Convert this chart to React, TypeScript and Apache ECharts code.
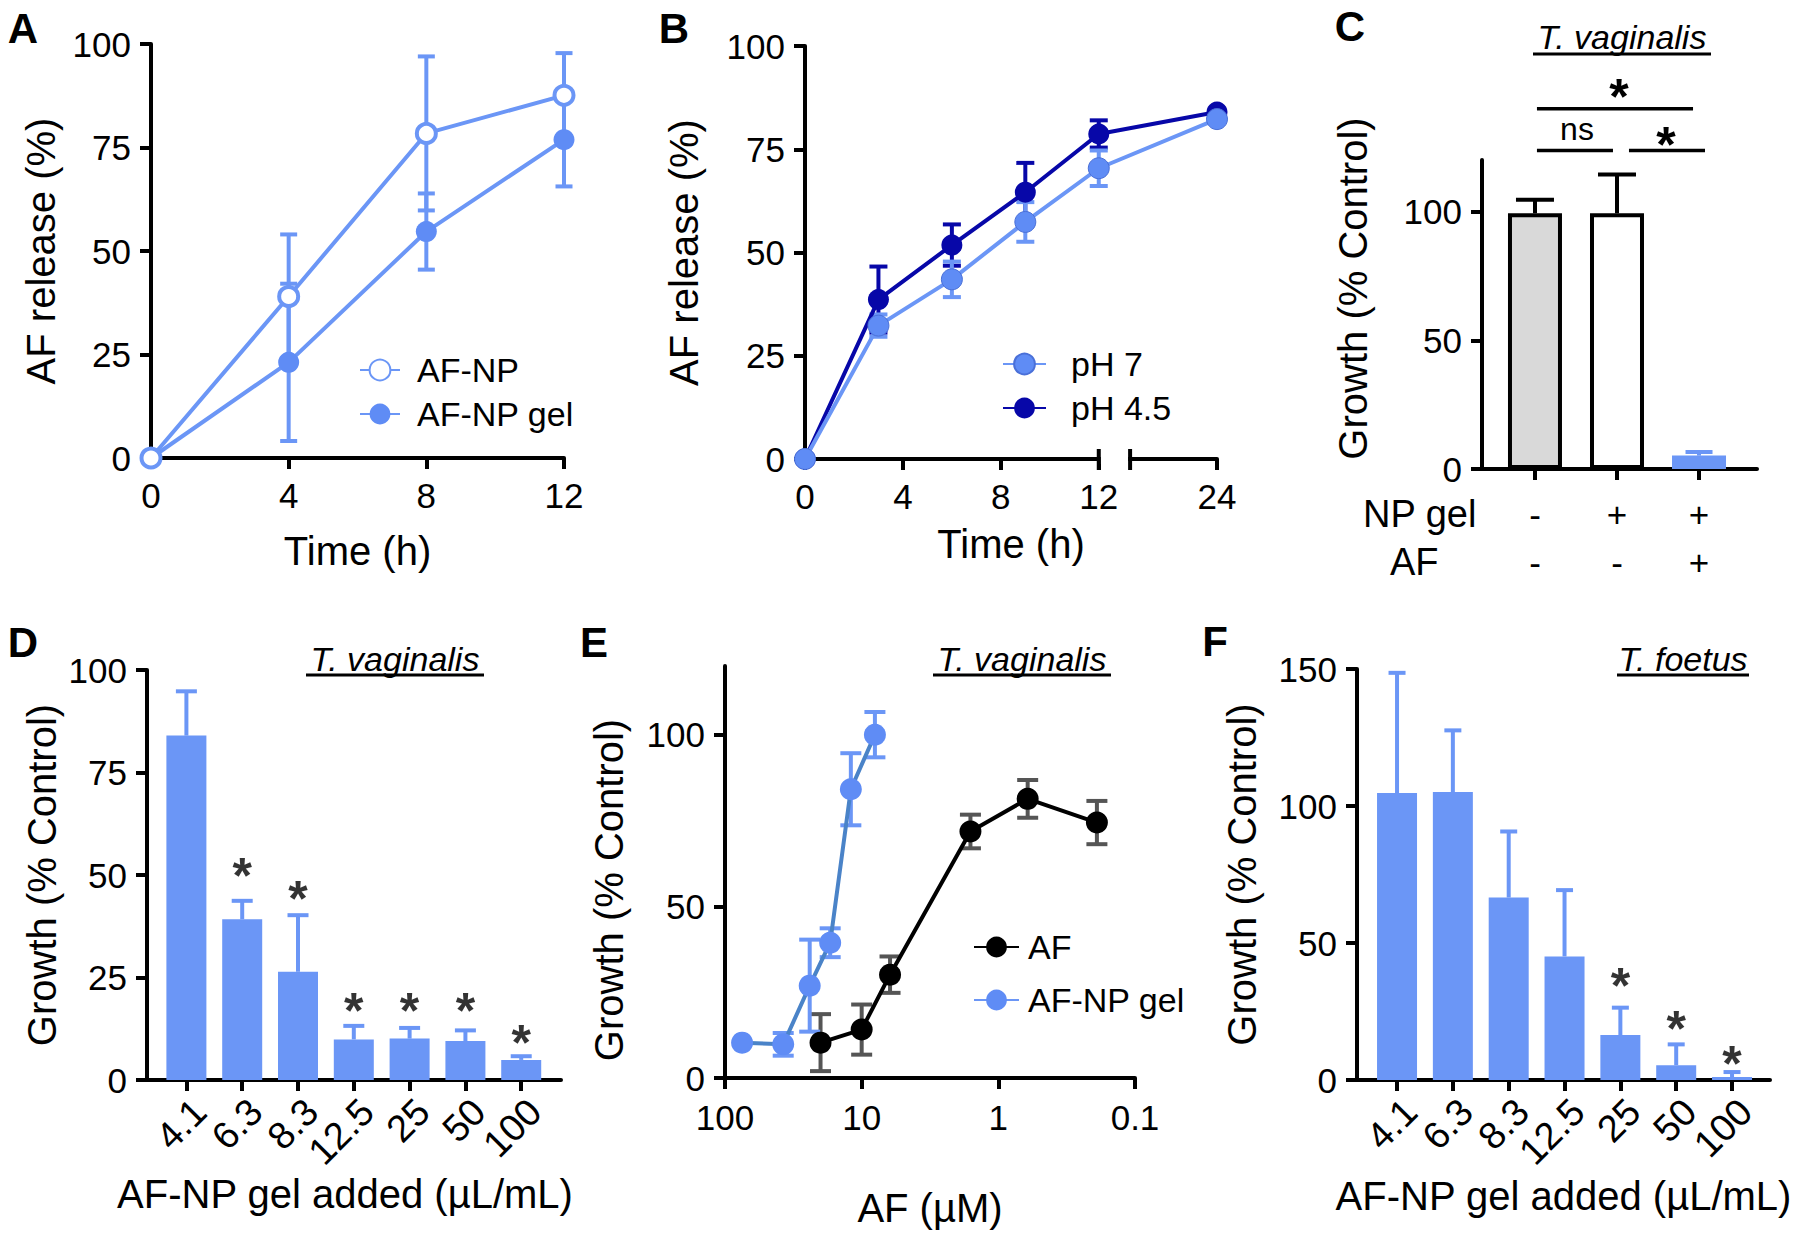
import React, { useEffect, useRef } from "react";
import * as echarts from "echarts";

const FONT = "'Liberation Sans', Arial, Helvetica, sans-serif";
const LIGHT = "#6b96f6";
const MARK = "#5f8cf5";
const NAVY = "#0707a8";
const STEEL = "#4a83c8";
const GRAY_ERR = "#555555";
const BLACK = "#000000";

// ---------- Panel A ----------
const timeA = [0, 4, 8, 12];
const afNp = [0, 39, 78.4, 87.6];
const afNpErr = [0, 15, 18.6, 10.2];
const afNpGel = [0, 23.1, 54.7, 76.9];
const afNpGelErr = [0, 19, 9.2, 11.3];

// ---------- Panel B ----------
const timeB = [0, 3, 6, 9, 12, 24];
const ph7 = [0, 32.3, 43.5, 57.4, 70.4, 82.3];
const ph7Err = [0, 2.7, 4.3, 4.8, 4.3, 0];
const ph45 = [0, 38.6, 51.8, 64.6, 78.7, 84.0];
const ph45Err = [0, 8, 5, 7.1, 3.3, 0];
const ticksB = [0, 4, 8, 12, 24];
const BREAK_AT = 12;
const RESUME_AT = 20.45;
const BREAK_GAP = 1.28;
const bx = (t: number) => (t <= BREAK_AT ? t : t - RESUME_AT + BREAK_AT + BREAK_GAP);
const unbx = (p: number) => (p <= BREAK_AT ? p : p + RESUME_AT - BREAK_AT - BREAK_GAP);

// ---------- Panel C ----------
const groupsC = [0, 1, 2];
const npGelRow = ["-", "+", "+"];
const afRow = ["-", "-", "+"];
const growthC = [99.3, 99.3, 5.2];
const growthCErr = [5.3, 15.1, 1.4];
const sigLinesC = [
  { from: 0.024, to: 1.927, y: 139.9 },
  { from: 0.024, to: 0.951, y: 123.7 },
  { from: 1.146, to: 2.073, y: 123.7 },
];
const sigTextsC = [
  { x: 1.024, y: 148.6, text: "*" },
  { x: 0.512, y: 131.9, text: "ns" },
  { x: 1.597, y: 130.0, text: "*" },
];

// ---------- Panel D ----------
const doses = ["4.1", "6.3", "8.3", "12.5", "25", "50", "100"];
const growthD = [84.0, 39.2, 26.4, 9.9, 10.1, 9.5, 4.9];
const growthDErr = [10.8, 4.5, 13.8, 3.3, 2.6, 2.6, 0.9];
const starsD = [null, 52.4, 46.9, 19.4, 19.4, 19.4, 11.8];

// ---------- Panel E ----------
const concAF = [20, 10, 6.2, 1.6, 0.61, 0.19];
const growthAF = [10.3, 14.1, 30.1, 71.8, 81.3, 74.4];
const growthAFErr = [8.3, 7.3, 5.3, 4.9, 5.5, 6.3];
const concGel = [75, 37.5, 24, 17, 12, 8];
const growthGel = [10.3, 9.8, 26.9, 39.4, 84.1, 100];
const growthGelErr = [0, 3.3, 13.4, 4.2, 10.5, 6.6];

// ---------- Panel F ----------
const growthF = [104.7, 105.1, 66.6, 45.1, 16.4, 5.4, 1.1];
const growthFErr = [43.9, 22.5, 24.1, 24.2, 10.0, 7.6, 1.8];
const starsF = [null, null, null, null, 38.3, 22.6, 9.7];

// ---------- layout ----------
const GRIDS = [
  { left: 151, top: 44, width: 413, height: 414 },
  { left: 805, top: 46, width: 412, height: 413 },
  { left: 1482, top: 160, width: 275, height: 309 },
  { left: 147, top: 670, width: 414, height: 410 },
  { left: 725, top: 666, width: 410, height: 412 },
  { left: 1357, top: 669, width: 413, height: 411 },
];
const TICK_FONT = 35;
const TITLE_FONT = 40;
const STAR_FONT = 50;

const txt = (size: number, extra: any = {}) => ({ color: BLACK, fontFamily: FONT, fontSize: size, ...extra });

function baseAxis(gridIndex: number, extra: any = {}) {
  const a: any = {
    gridIndex,
    axisLine: { show: true, onZero: false, lineStyle: { color: BLACK, width: 4 } },
    axisTick: { show: true, length: 11, lineStyle: { color: BLACK, width: 4 } },
    axisLabel: { ...txt(TICK_FONT), margin: 20 },
    splitLine: { show: false },
    nameLocation: "middle",
    nameTextStyle: txt(TITLE_FONT),
  };
  for (const k of Object.keys(extra)) {
    if (typeof extra[k] === "object" && !Array.isArray(extra[k]) && a[k]) a[k] = { ...a[k], ...extra[k] };
    else a[k] = extra[k];
  }
  return a;
}

function errSeries(id: string, gi: number, data: number[][], color: string, cap: number, both: boolean) {
  return {
    type: "custom",
    id,
    name: id,
    xAxisIndex: gi,
    yAxisIndex: gi,
    z: 2,
    clip: false,
    silent: true,
    data,
    encode: { x: 0, y: [1, 2] },
    renderItem: (params: any, api: any) => {
      const x = api.value(0);
      const lo = api.value(1);
      const hi = api.value(2);
      const a = api.coord([x, lo]);
      const b = api.coord([x, hi]);
      const h = cap / 2;
      const style = { stroke: color, lineWidth: 4, fill: "none" };
      const ch: any[] = [
        { type: "line", shape: { x1: a[0], y1: a[1], x2: b[0], y2: b[1] }, style },
        { type: "line", shape: { x1: b[0] - h, y1: b[1], x2: b[0] + h, y2: b[1] }, style },
      ];
      if (both) ch.push({ type: "line", shape: { x1: a[0] - h, y1: a[1], x2: a[0] + h, y2: a[1] }, style });
      return { type: "group", children: ch };
    },
  };
}

const both = (xs: number[], ys: number[], es: number[]) =>
  xs.map((x, i) => [x, ys[i] - es[i], ys[i] + es[i]]).filter((d, i) => es[i] > 0);
const up = (xs: number[], ys: number[], es: number[]) =>
  xs.map((x, i) => [x, ys[i], ys[i] + es[i]]).filter((d, i) => es[i] > 0);

const idx7 = doses.map((d, i) => i);
const barStylesC = [
  { color: "#d9d9d9", borderColor: BLACK, borderWidth: 4 },
  { color: "#ffffff", borderColor: BLACK, borderWidth: 4 },
  { color: LIGHT, borderWidth: 0 },
];

function starSeries(gi: number, stars: (number | null)[]) {
  return {
    type: "scatter",
    xAxisIndex: gi,
    yAxisIndex: gi,
    silent: true,
    z: 6,
    symbolSize: 1,
    itemStyle: { color: "transparent" },
    data: stars.map((s, i) => (s == null ? null : [i, s])).filter((d) => d),
    label: {
      show: true,
      position: "inside",
      formatter: "*",
      ...txt(STAR_FONT, { fontWeight: "bold" }),
      offset: [0, Math.round(STAR_FONT * 0.21)],
    },
  };
}

function legendCfg(names: string[], left: number, top: number, itemWidth: number, gap: number, textPad: number) {
  return {
    data: names,
    left,
    top,
    orient: "vertical",
    itemWidth,
    itemHeight: 26,
    itemGap: gap,
    selectedMode: false,
    textStyle: { ...txt(34), lineHeight: 34, padding: [0, 0, 0, textPad] },
  };
}

const rotatedLabels = {
  customValues: idx7,
  rotate: 45,
  margin: 12,
  fontSize: 38,
  align: "right",
  verticalAlign: "top",
  formatter: (v: number) => doses[v],
};

const option: any = {
  animation: false,
  backgroundColor: "#ffffff",
  grid: GRIDS.map((g) => ({ ...g, containLabel: false, outerBoundsMode: "none" })),
  legend: [
    legendCfg(["AF-NP", "AF-NP gel"], 354, 348, 40, 10, 12),
    legendCfg(["pH 7", "pH 4.5"], 997, 342, 43, 10, 20),
    legendCfg(["AF", "AF-NP gel"], 968, 925, 45, 19, 4),
  ],
  xAxis: [
    baseAxis(0, { type: "value", min: 0, max: 12, interval: 4, name: "Time (h)", nameGap: 73 }),
    baseAxis(1, {
      type: "value",
      min: 0,
      max: bx(24),
      name: "Time (h)",
      nameGap: 65,
      axisTick: { customValues: ticksB.map(bx) },
      axisLabel: { customValues: ticksB.map(bx), formatter: (v: number) => String(Math.round(unbx(v))) },
    }),
    baseAxis(2, {
      type: "value",
      min: -0.646,
      max: 2.707,
      axisTick: { customValues: groupsC },
      axisLabel: {
        customValues: groupsC,
        lineHeight: 48,
        margin: 21,
        formatter: (v: number) => `${npGelRow[v]}\n${afRow[v]}`,
      },
    }),
    baseAxis(3, {
      type: "value",
      min: -0.706,
      max: 6.713,
      name: "AF-NP gel added (µL/mL)",
      nameGap: 94,
      nameTextStyle: { padding: [0, 18, 0, 0] },
      axisTick: { customValues: idx7 },
      axisLabel: rotatedLabels,
    }),
    baseAxis(4, {
      type: "log",
      logBase: 10,
      min: 0.1,
      max: 100,
      inverse: true,
      name: "AF (µM)",
      nameGap: 110,
      axisLabel: { margin: 22, formatter: (v: number) => String(Number(v.toPrecision(3))) },
      minorTick: { show: false },
    }),
    baseAxis(5, {
      type: "value",
      min: -0.717,
      max: 6.68,
      name: "AF-NP gel added (µL/mL)",
      nameGap: 96,
      axisTick: { customValues: idx7 },
      axisLabel: rotatedLabels,
    }),
  ],
  yAxis: [
    baseAxis(0, { type: "value", min: 0, max: 100, interval: 25, name: "AF release (%)", nameRotate: 90, nameGap: 90 }),
    baseAxis(1, { type: "value", min: 0, max: 100, interval: 25, name: "AF release (%)", nameRotate: 90, nameGap: 101 }),
    baseAxis(2, {
      type: "value",
      min: 0,
      max: 120,
      name: "Growth (% Control)",
      nameRotate: 90,
      nameGap: 109,
      nameTextStyle: { padding: [0, 0, 0, 52] },
      axisTick: { customValues: [0, 50, 100] },
      axisLabel: { customValues: [0, 50, 100] },
    }),
    baseAxis(3, { type: "value", min: 0, max: 100, interval: 25, name: "Growth (% Control)", nameRotate: 90, nameGap: 85 }),
    baseAxis(4, {
      type: "value",
      min: 0,
      max: 120,
      name: "Growth (% Control)",
      nameRotate: 90,
      nameGap: 96,
      nameTextStyle: { padding: [0, 36, 0, 0] },
      axisTick: { customValues: [0, 50, 100] },
      axisLabel: { customValues: [0, 50, 100] },
    }),
    baseAxis(5, { type: "value", min: 0, max: 150, interval: 50, name: "Growth (% Control)", nameRotate: 90, nameGap: 95 }),
  ],
  series: [
    // A
    errSeries("errA-gel", 0, both(timeA, afNpGel, afNpGelErr), LIGHT, 17, true),
    errSeries("errA-np", 0, both(timeA, afNp, afNpErr), LIGHT, 17, true),
    {
      type: "line",
      name: "AF-NP gel",
      xAxisIndex: 0,
      yAxisIndex: 0,
      data: timeA.map((t, i) => [t, afNpGel[i]]),
      symbol: "circle",
      symbolSize: 21,
      clip: false,
      z: 3,
      lineStyle: { color: LIGHT, width: 4 },
      itemStyle: { color: MARK },
    },
    {
      type: "line",
      name: "AF-NP",
      xAxisIndex: 0,
      yAxisIndex: 0,
      data: timeA.map((t, i) => [t, afNp[i]]),
      symbol: "circle",
      symbolSize: 19,
      clip: false,
      z: 4,
      lineStyle: { color: LIGHT, width: 4 },
      itemStyle: { color: "#ffffff", borderColor: LIGHT, borderWidth: 4 },
    },
    // B
    errSeries("errB-45", 1, both(timeB.map(bx), ph45, ph45Err), NAVY, 18, true),
    errSeries("errB-7", 1, both(timeB.map(bx), ph7, ph7Err), LIGHT, 18, true),
    {
      type: "line",
      name: "pH 4.5",
      xAxisIndex: 1,
      yAxisIndex: 1,
      data: timeB.map((t, i) => [bx(t), ph45[i]]),
      symbol: "circle",
      symbolSize: 21,
      clip: false,
      z: 3,
      lineStyle: { color: NAVY, width: 4 },
      itemStyle: { color: NAVY },
    },
    {
      type: "line",
      name: "pH 7",
      xAxisIndex: 1,
      yAxisIndex: 1,
      data: timeB.map((t, i) => [bx(t), ph7[i]]),
      symbol: "circle",
      symbolSize: 21,
      clip: false,
      z: 4,
      lineStyle: { color: LIGHT, width: 4 },
      itemStyle: { color: MARK, borderColor: "#4a70d8", borderWidth: 1 },
    },
    // C
    {
      type: "bar",
      name: "Growth C",
      xAxisIndex: 2,
      yAxisIndex: 2,
      barWidth: 54,
      z: 3,
      data: groupsC.map((g, i) => ({ value: [g, growthC[i]], itemStyle: barStylesC[i] })),
    },
    errSeries("errC-k", 2, up(groupsC.slice(0, 2), growthC.slice(0, 2), growthCErr.slice(0, 2)), BLACK, 38, false),
    errSeries("errC-b", 2, up(groupsC.slice(2), growthC.slice(2), growthCErr.slice(2)), LIGHT, 27, false),
    // D
    {
      type: "bar",
      name: "Growth D",
      xAxisIndex: 3,
      yAxisIndex: 3,
      barWidth: 40,
      z: 3,
      itemStyle: { color: LIGHT },
      data: idx7.map((i) => [i, growthD[i]]),
    },
    errSeries("errD", 3, up(idx7, growthD, growthDErr), LIGHT, 21, false),
    starSeries(3, starsD),
    // E
    errSeries("errE-af", 4, both(concAF, growthAF, growthAFErr), GRAY_ERR, 21, true),
    errSeries("errE-gel", 4, both(concGel, growthGel, growthGelErr), LIGHT, 21, true),
    {
      type: "line",
      name: "AF",
      xAxisIndex: 4,
      yAxisIndex: 4,
      data: concAF.map((c, i) => [c, growthAF[i]]),
      symbol: "circle",
      symbolSize: 22,
      clip: false,
      z: 3,
      lineStyle: { color: BLACK, width: 4 },
      itemStyle: { color: BLACK },
    },
    {
      type: "line",
      name: "AF-NP gel",
      xAxisIndex: 4,
      yAxisIndex: 4,
      data: concGel.map((c, i) => [c, growthGel[i]]),
      symbol: "circle",
      symbolSize: 22,
      clip: false,
      z: 4,
      lineStyle: { color: STEEL, width: 4 },
      itemStyle: { color: MARK },
    },
    // F
    {
      type: "bar",
      name: "Growth F",
      xAxisIndex: 5,
      yAxisIndex: 5,
      barWidth: 40,
      z: 3,
      itemStyle: { color: LIGHT },
      data: idx7.map((i) => [i, growthF[i]]),
    },
    errSeries("errF", 5, up(idx7, growthF, growthFErr), LIGHT, 17, false),
    starSeries(5, starsF),
  ],
};

const textEl = (text: string, x: number, y: number, size: number, extra: any = {}) => ({
  type: "text",
  x,
  y,
  z: 100,
  silent: true,
  style: {
    text,
    fill: BLACK,
    fontFamily: FONT,
    fontSize: size,
    align: "center",
    verticalAlign: "middle",
    textAlign: "center",
    textVerticalAlign: "middle",
    ...extra,
  },
});
const lineEl = (x1: number, y1: number, x2: number, y2: number, w = 3.5) => ({
  type: "line",
  z: 100,
  silent: true,
  shape: { x1, y1, x2, y2 },
  style: { stroke: BLACK, lineWidth: w },
});

const PANEL_LETTERS = [
  { t: "A", x: 23, y: 28 },
  { t: "B", x: 674, y: 28 },
  { t: "C", x: 1350, y: 26 },
  { t: "D", x: 23, y: 642 },
  { t: "E", x: 594, y: 642 },
  { t: "F", x: 1215, y: 641 },
];
const SPECIES = [
  { t: "T. vaginalis", x: 1622, y: 37, half: 89, uy: 54 },
  { t: "T. vaginalis", x: 395, y: 659, half: 89, uy: 675 },
  { t: "T. vaginalis", x: 1022, y: 659, half: 89, uy: 675 },
  { t: "T. foetus", x: 1683, y: 659, half: 66, uy: 675 },
];

export default function App() {
  const ref = useRef<HTMLDivElement>(null);
  useEffect(() => {
    document.body.style.margin = "0";
    const chart = echarts.init(ref.current!, null, { renderer: "svg", width: 1800, height: 1235 });
    chart.setOption(option);

    const g: any[] = [];
    PANEL_LETTERS.forEach((p) => g.push(textEl(p.t, p.x, p.y, 42, { fontWeight: "bold" })));
    SPECIES.forEach((s) => {
      g.push(textEl(s.t, s.x, s.y, 34, { fontStyle: "italic" }));
      g.push(lineEl(s.x - s.half, s.uy, s.x + s.half, s.uy, 3));
    });
    // Panel C significance brackets
    const pc = (x: number, y: number) => chart.convertToPixel({ gridIndex: 2 }, [x, y]) as number[];
    sigLinesC.forEach((l) => {
      const a = pc(l.from, l.y);
      const b = pc(l.to, l.y);
      g.push(lineEl(a[0], a[1], b[0], b[1], 3.5));
    });
    sigTextsC.forEach((t) => {
      const p = pc(t.x, t.y);
      const isStar = t.text === "*";
      g.push(
        textEl(t.text, p[0], p[1] + (isStar ? Math.round(STAR_FONT * 0.21) : 0), isStar ? STAR_FONT : 32, isStar ? { fontWeight: "bold" } : {})
      );
    });
    // row labels of panel C
    const r1 = pc(0, 0);
    g.push(textEl("NP gel", 1363, r1[1] + 45, 38, { align: "left", textAlign: "left" }));
    g.push(textEl("AF", 1390, r1[1] + 93, 38, { align: "left", textAlign: "left" }));
    // Panel B axis break
    const pb = (x: number, y: number) => chart.convertToPixel({ gridIndex: 1 }, [x, y]) as number[];
    const b1 = pb(BREAK_AT, 0);
    const b2 = pb(BREAK_AT + BREAK_GAP, 0);
    g.push({
      type: "rect",
      z: 99,
      silent: true,
      shape: { x: b1[0] + 2, y: b1[1] - 5, width: b2[0] - b1[0] - 4, height: 10 },
      style: { fill: "#ffffff" },
    });
    g.push(lineEl(b1[0], b1[1] - 10, b1[0], b1[1] + 11, 4));
    g.push(lineEl(b2[0], b2[1] - 10, b2[0], b2[1] + 11, 4));

    chart.setOption({ graphic: { elements: g } });
    return () => chart.dispose();
  }, []);
  return <div ref={ref} style={{ width: 1800, height: 1235 }} />;
}
